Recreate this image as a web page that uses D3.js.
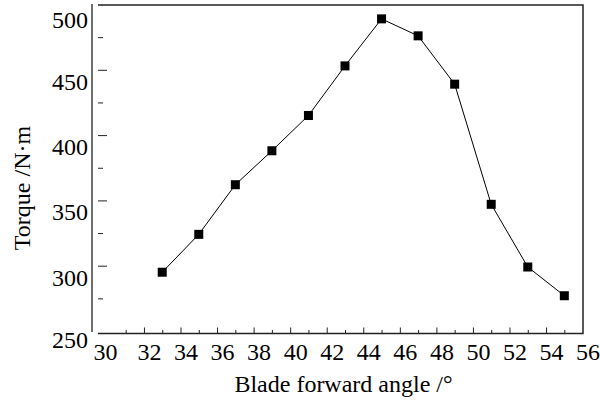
<!DOCTYPE html>
<html>
<head>
<meta charset="utf-8">
<script src="https://cdn.jsdelivr.net/npm/d3@7"></script>
<style>
  body { margin: 0; background: #fff; }
</style>
</head>
<body>
<div id="chart"></div>
<script>
// data
var angles = [33, 35, 37, 39, 41, 43, 45, 47, 49, 51, 53, 55];
var torque = [295, 324, 362, 388, 415, 453, 489, 476, 439, 347, 299, 277];

var xTickLabels = [30, 32, 34, 36, 38, 40, 42, 44, 46, 48, 50, 52, 54, 56];
var xMinorTicks = [31, 33, 35, 37, 39, 41, 43, 45, 47, 49, 51, 53, 55];
var xMajorTicks = [32, 34, 36, 38, 40, 42, 44, 46, 48, 50, 52, 54];
var yTickLabels = [250, 300, 350, 400, 450, 500];
var yMajorTicks = [300, 350, 400, 450];
var yMinorTicks = [275, 325, 375, 425, 475];

var width = 600, height = 418;
var frame = {left: 98, right: 583, top: 5, bottom: 333.5};
var serif = '"Times New Roman", "Liberation Serif", serif';

var svg = d3.select("#chart")
  .append("svg")
    .attr("width", width)
    .attr("height", height);

var x = d3.scaleLinear().domain([30, 56]).range([107.4, 582.6]);
var y = d3.scaleLinear().domain([250, 500]).range([331, 4.5]);

// frame: top, right, bottom, and the detached left axis line
svg.append("path")
    .attr("d", "M" + frame.left + "," + frame.top + "H" + frame.right + "V" + frame.bottom + "H" + frame.left)
    .attr("fill", "none")
    .attr("stroke", "#222")
    .attr("stroke-width", 1.5);
svg.append("line")
    .attr("x1", 92).attr("x2", 92)
    .attr("y1", 4).attr("y2", 332)
    .attr("stroke", "#222")
    .attr("stroke-width", 1.3);

// x ticks (pointing up into the plot)
svg.append("g")
    .attr("transform", "translate(0," + frame.bottom + ")")
    .call(d3.axisBottom(x).tickValues(xMinorTicks).tickSize(-3.5).tickFormat(""))
    .call(g => g.select(".domain").remove());
svg.append("g")
    .attr("transform", "translate(0," + frame.bottom + ")")
    .call(d3.axisBottom(x).tickValues(xMajorTicks).tickSize(-6).tickFormat(""))
    .call(g => g.select(".domain").remove());

// y ticks (short dashes starting at the frame edge)
svg.append("g")
    .attr("transform", "translate(" + frame.left + ",0)")
    .call(d3.axisRight(y).tickValues(yMinorTicks).tickSize(5).tickFormat(""))
    .call(g => g.select(".domain").remove());
svg.append("g")
    .attr("transform", "translate(" + frame.left + ",0)")
    .call(d3.axisRight(y).tickValues(yMajorTicks).tickSize(9).tickFormat(""))
    .call(g => g.select(".domain").remove());
svg.selectAll(".tick line").attr("stroke", "#222");

// tick labels
svg.append("g").selectAll("text")
  .data(xTickLabels)
  .enter().append("text")
    .attr("x", d => x(d) + (d === 30 ? -2 : 5.5))
    .attr("y", 360)
    .attr("text-anchor", "middle")
    .style("font-family", serif)
    .style("font-size", "24px")
    .text(d => d);

svg.append("g").selectAll("text")
  .data(yTickLabels)
  .enter().append("text")
    .attr("x", 88)
    .attr("y", d => Math.max(28, Math.min(348, y(d) + 20)))
    .attr("text-anchor", "end")
    .style("font-family", serif)
    .style("font-size", "24px")
    .text(d => d);

// line + square markers
var pts = angles.map((a, i) => [a, torque[i]]);
svg.append("path")
    .datum(pts)
    .attr("fill", "none")
    .attr("stroke", "#000")
    .attr("stroke-width", 1)
    .attr("d", d3.line().x(d => x(d[0])).y(d => y(d[1])));

svg.append("g").selectAll("rect")
  .data(pts)
  .enter().append("rect")
    .attr("x", d => x(d[0]) - 4.5)
    .attr("y", d => y(d[1]) - 4.5)
    .attr("width", 9)
    .attr("height", 9)
    .attr("fill", "#000");

// axis titles
svg.append("text")
    .attr("x", 343.5)
    .attr("y", 392)
    .attr("text-anchor", "middle")
    .style("font-family", serif)
    .style("font-size", "24px")
    .text("Blade forward angle /°");

svg.append("text")
    .attr("transform", "translate(30,188) rotate(-90)")
    .attr("text-anchor", "middle")
    .style("font-family", serif)
    .style("font-size", "24px")
    .text("Torque /N·m");
</script>
</body>
</html>
